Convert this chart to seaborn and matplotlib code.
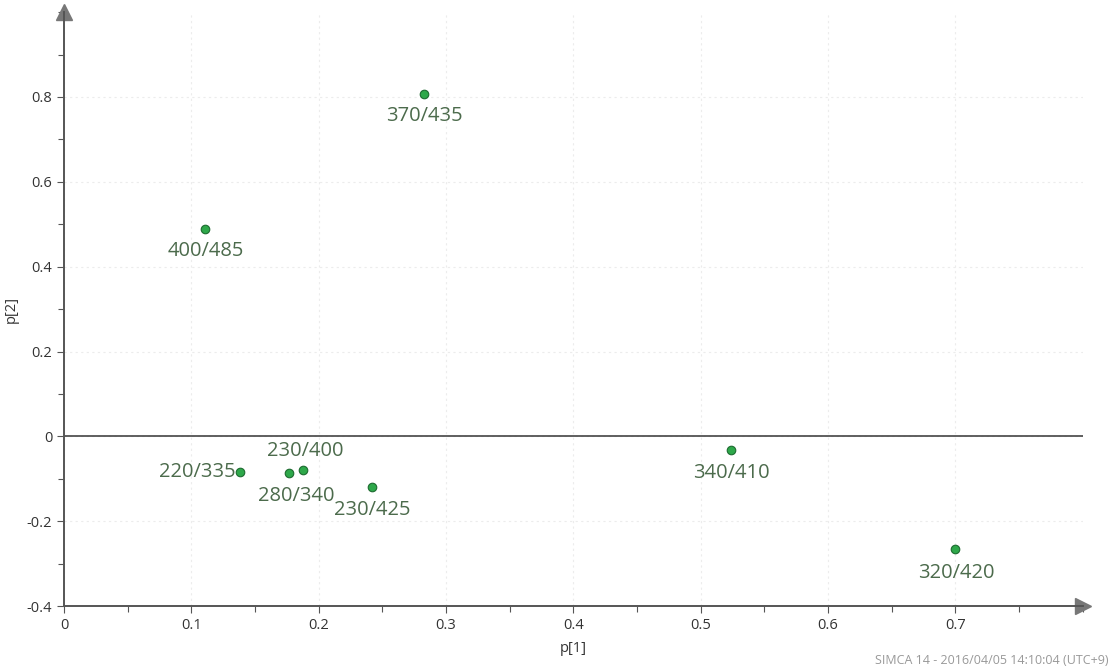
import matplotlib
matplotlib.use("Agg")
import matplotlib.pyplot as plt
import seaborn as sns
import pandas as pd
from matplotlib.ticker import MultipleLocator

labels = ["370/435", "400/485", "220/335", "280/340", "230/400", "230/425", "340/410", "320/420"]
p1 = [0.283, 0.111, 0.138, 0.177, 0.188, 0.242, 0.524, 0.700]
p2 = [0.807, 0.489, -0.085, -0.087, -0.080, -0.120, -0.033, -0.266]

# label placement (offset in points, horizontal alignment)
label_pos = {
    "370/435": ((0, -16), "center"),
    "400/485": ((0, -16), "center"),
    "220/335": ((-3, 0), "right"),
    "280/340": ((5, -16), "center"),
    "230/400": ((1, 14), "center"),
    "230/425": ((0, -16), "center"),
    "340/410": ((0, -16), "center"),
    "320/420": ((1, -17), "center"),
}

def main():
    df = pd.DataFrame({"label": labels, "p1": p1, "p2": p2})

    sns.set_style("white")
    plt.rcParams["font.family"] = ["Open Sans", "DejaVu Sans"]

    fig = plt.figure(figsize=(11.12, 6.72), dpi=100)
    ax = fig.add_axes([0.0576, 0.098, 0.916, 0.884])

    axis_col = "#555555"
    ax.axhline(0, color="#444444", lw=1.2, zorder=1)
    sns.scatterplot(data=df, x="p1", y="p2", ax=ax, s=38, color="#2ea84a",
                    edgecolor="#1d6b30", linewidth=0.8, zorder=3, legend=False)

    for _, r in df.iterrows():
        (dx, dy), ha = label_pos[r["label"]]
        ax.annotate(r["label"], (r["p1"], r["p2"]), xytext=(dx, dy),
                    textcoords="offset points", ha=ha, va="center",
                    fontsize=14.5, color="#4c6b4c")

    ax.set_xlim(0, 0.8)
    ax.set_ylim(-0.4, 1.0)
    ax.xaxis.set_minor_locator(MultipleLocator(0.05))
    ax.yaxis.set_minor_locator(MultipleLocator(0.1))
    ax.set_xticks([0, 0.1, 0.2, 0.3, 0.4, 0.5, 0.6, 0.7])
    ax.set_xticklabels(["0", "0.1", "0.2", "0.3", "0.4", "0.5", "0.6", "0.7"])
    ax.set_yticks([-0.4, -0.2, 0, 0.2, 0.4, 0.6, 0.8])
    ax.set_yticklabels(["-0.4", "-0.2", "0", "0.2", "0.4", "0.6", "0.8"])

    ax.grid(True, which="major", color="#ececec", ls=(0, (2, 3)), lw=0.8)
    ax.tick_params(which="both", direction="out", color=axis_col, labelsize=10.5,
                   labelcolor="#333333", left=True, bottom=True)
    ax.tick_params(which="major", length=5, width=0.8)
    ax.tick_params(which="minor", length=4, width=0.8)

    for side in ["top", "right"]:
        ax.spines[side].set_visible(False)
    for side in ["left", "bottom"]:
        ax.spines[side].set_color(axis_col)
        ax.spines[side].set_linewidth(1.4)

    # arrow heads at the axis ends
    ax.plot(1, 0, marker=">", color="#777777", markersize=11, transform=ax.transAxes,
            clip_on=False)
    ax.plot(0, 1, marker="^", color="#777777", markersize=11, transform=ax.transAxes,
            clip_on=False)

    ax.set_xlabel("p[1]", fontsize=10.5, color="#333333", labelpad=6)
    ax.set_ylabel("p[2]", fontsize=10.5, color="#333333", labelpad=6)

    fig.text(0.997, 0.008, "SIMCA 14 - 2016/04/05 14:10:04 (UTC+9)", ha="right",
             va="bottom", fontsize=9, color="#999999")

    fig.savefig("out.png", dpi=100)
    plt.close(fig)

if __name__ == "__main__":
    main()
